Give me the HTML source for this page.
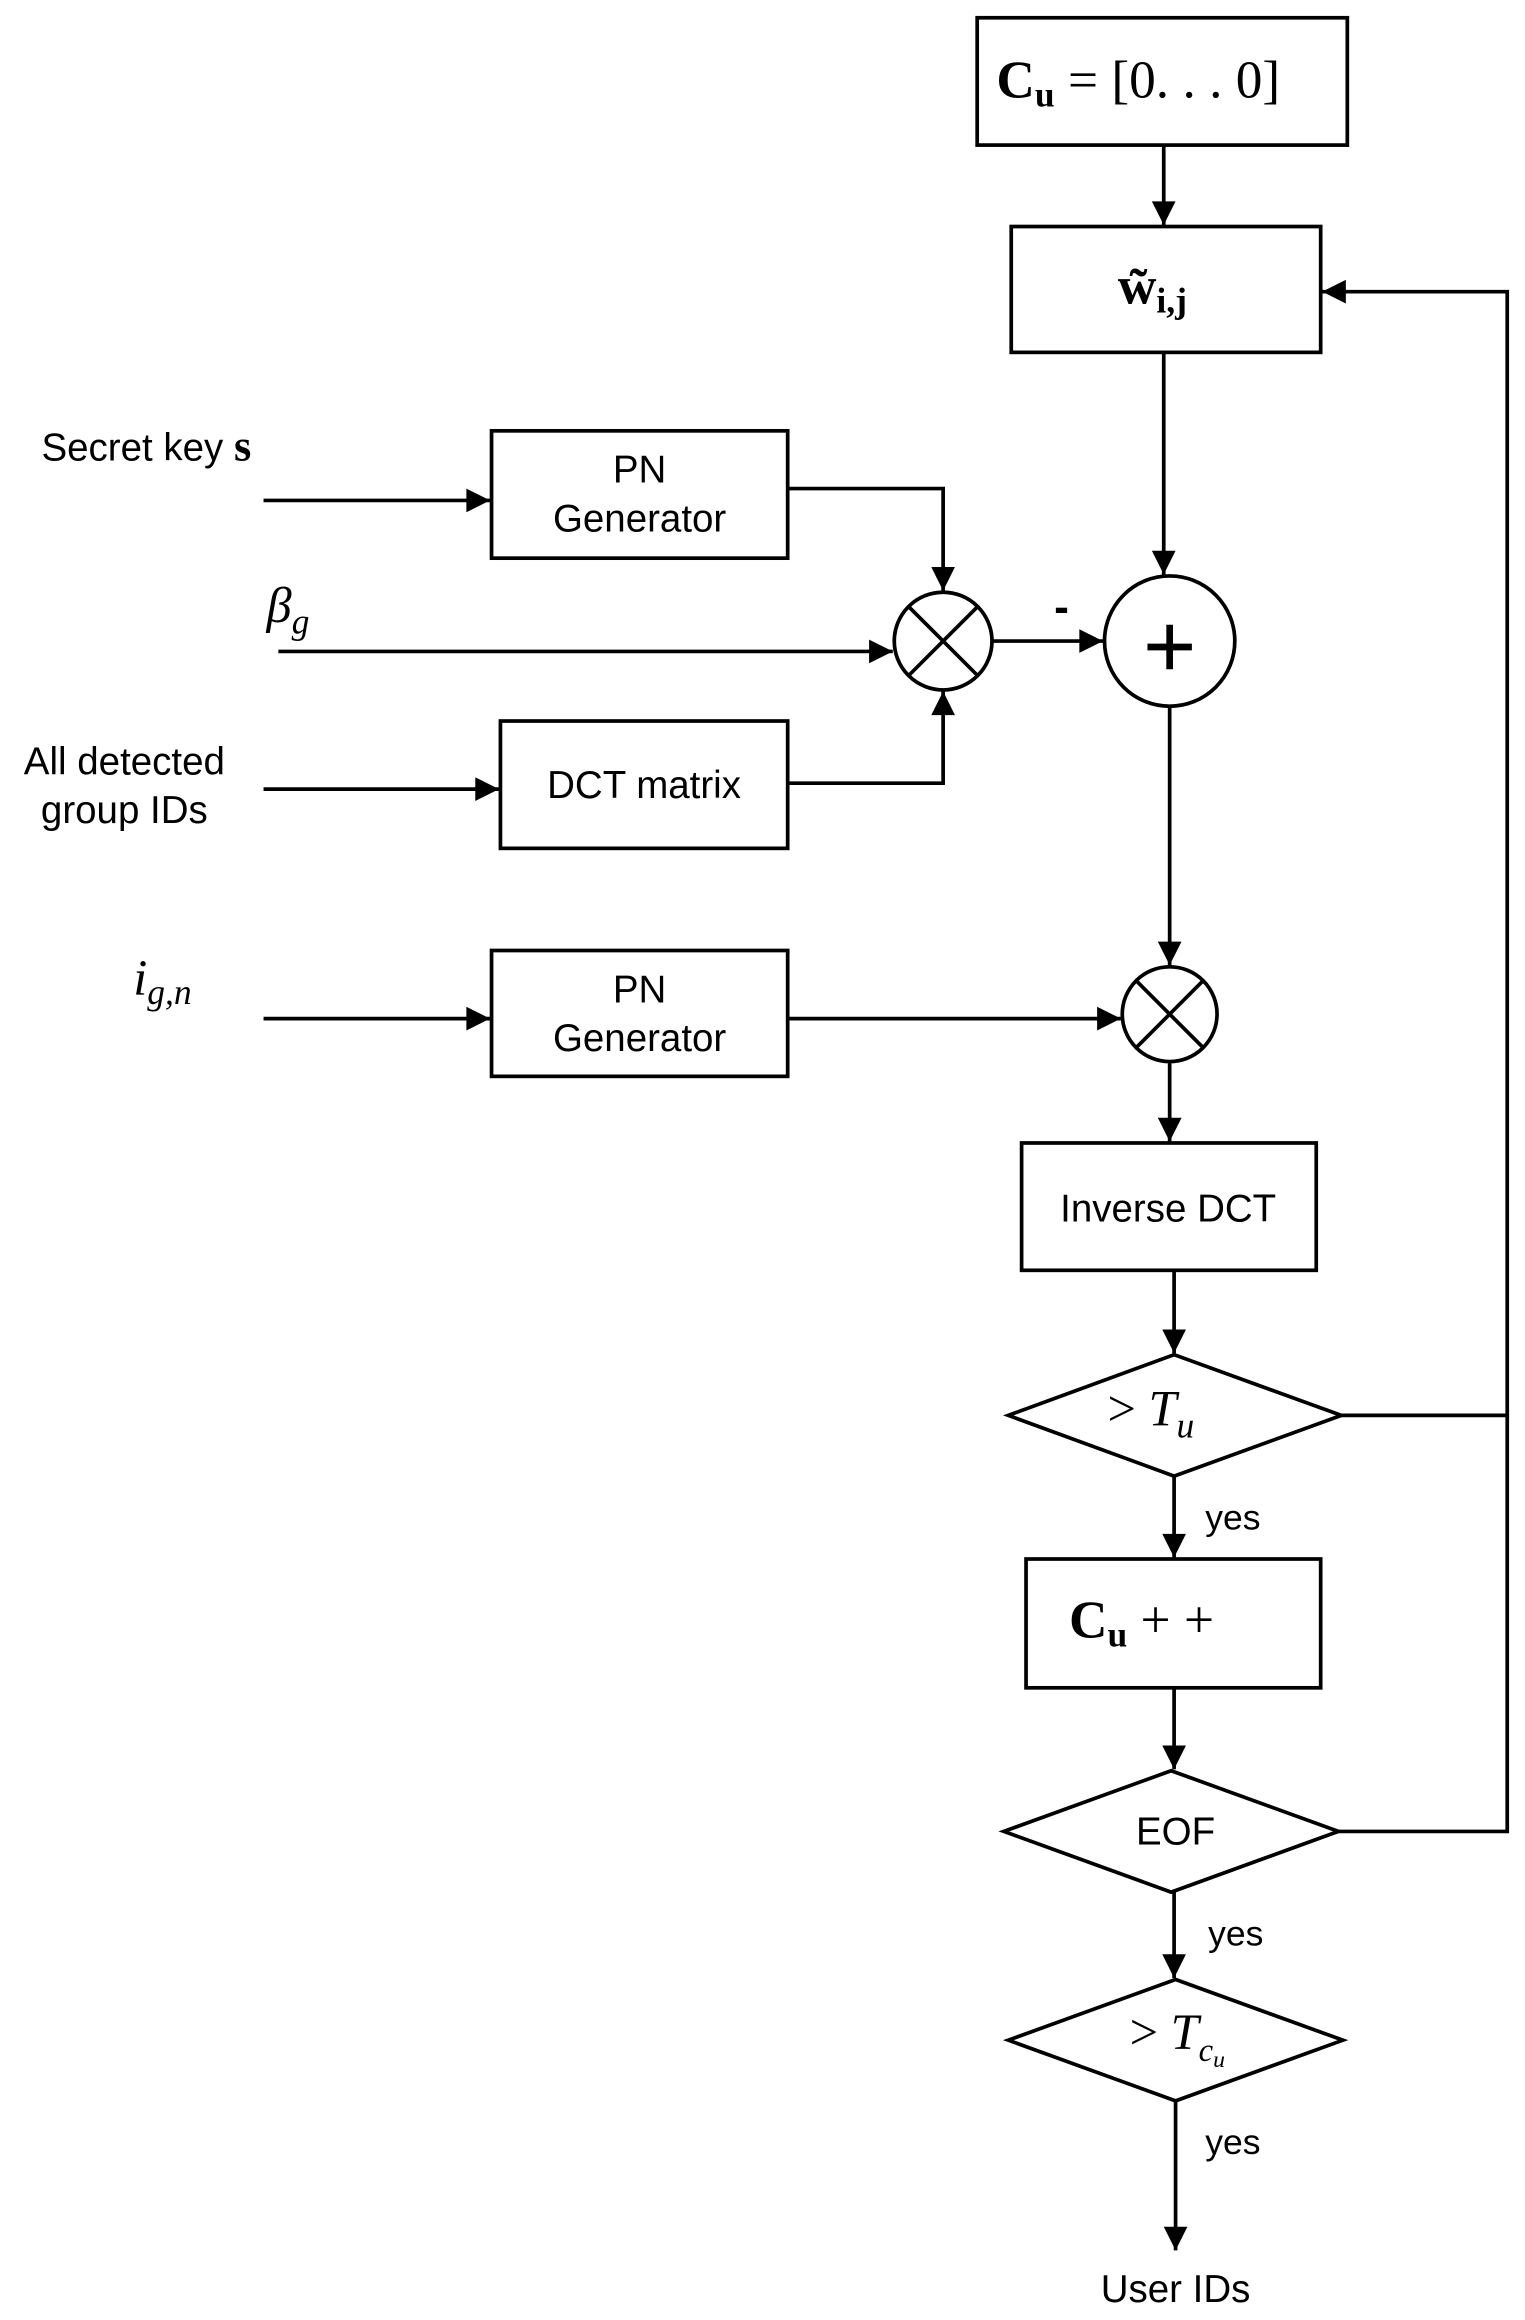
<!DOCTYPE html>
<html><head><meta charset="utf-8"><style>
html,body{margin:0;padding:0;background:#fff;}
svg{display:block;}
text{font-family:"Liberation Sans",sans-serif;fill:#000;}
.m{font-family:"Liberation Serif",serif;}
</style></head><body>
<svg width="1525" height="2320" viewBox="0 0 1030 1567" preserveAspectRatio="none" xmlns="http://www.w3.org/2000/svg">
<defs>
<marker id="b" viewBox="0 0 10 10" refX="10" refY="5" markerWidth="20" markerHeight="16" markerUnits="userSpaceOnUse" orient="auto"><path d="M0,0 L10,5 L0,10 z" fill="#000"/></marker></defs>
<g stroke="#000" stroke-width="2.5" fill="none">
<rect x="660" y="12" width="250" height="86"/>
<rect x="683" y="153" width="209" height="85"/>
<rect x="332" y="291" width="200" height="86"/>
<rect x="338" y="487" width="194" height="86"/>
<rect x="332" y="642" width="200" height="85"/>
<rect x="690" y="772" width="199" height="86"/>
<rect x="693" y="1053" width="199" height="87"/>
<circle cx="790" cy="433" r="44"/>
<circle cx="637" cy="433" r="33"/>
<path d="M614,410 L660,456 M660,410 L614,456"/>
<circle cx="790" cy="685" r="32"/>
<path d="M767,662 L813,708 M813,662 L767,708"/>
<polygon points="681,956 793,915 906,956 793,997"/>
<polygon points="678,1237 791,1196 904,1237 791,1278"/>
<polygon points="681,1378 794,1337 907,1378 794,1419"/>
<path d="M904,1237 H1018 V956"/>
<g marker-end="url(#b)">
<path d="M786,98 V152"/>
<path d="M906,956 H1018 V197 H893"/>
<path d="M786,238 V388"/>
<path d="M178,338 H331"/>
<path d="M532,330 H637 V399"/>
<path d="M188,440 H603"/>
<path d="M670,433 H745"/>
<path d="M178,533 H337"/>
<path d="M532,529 H637 V467"/>
<path d="M790,477 V652"/>
<path d="M178,688 H331"/>
<path d="M532,688 H757"/>
<path d="M790,717 V771"/>
<path d="M793,858 V914"/>
<path d="M793,997 V1052"/>
<path d="M793,1140 V1195"/>
<path d="M793,1278 V1336"/>
<path d="M794,1419 V1520"/>
</g>
</g>
<path d="M775,437 H805 M790,422 V452" stroke="#000" stroke-width="4.5"/>
<text x="673" y="66" class="m" font-size="36"><tspan font-weight="bold">C</tspan><tspan font-weight="bold" font-size="24" dy="6">u</tspan><tspan dy="-6"> = [0. . . 0]</tspan></text>
<text x="755" y="205" class="m" font-size="36" font-weight="bold">w̃<tspan font-size="24" dy="6">i,j</tspan></text>
<text x="432" y="326" font-size="26" text-anchor="middle">PN</text>
<text x="432" y="359" font-size="26" text-anchor="middle">Generator</text>
<text x="435" y="539" font-size="26" text-anchor="middle">DCT matrix</text>
<text x="432" y="677" font-size="26" text-anchor="middle">PN</text>
<text x="432" y="710" font-size="26" text-anchor="middle">Generator</text>
<text x="789" y="825" font-size="26" text-anchor="middle">Inverse DCT</text>
<text x="28" y="311" font-size="26">Secret key <tspan class="m" font-weight="bold" font-size="30">s</tspan></text>
<text x="180" y="420" class="m" font-size="34" font-style="italic">β<tspan font-size="24" dy="8">g</tspan></text>
<text x="84" y="523" font-size="26" text-anchor="middle">All detected</text>
<text x="84" y="556" font-size="26" text-anchor="middle">group IDs</text>
<text x="90" y="672" class="m" font-size="34" font-style="italic">i<tspan font-size="24" dy="6">g,n</tspan></text>
<text x="712" y="420" font-size="30" font-weight="bold">-</text>
<text x="748" y="963" class="m" font-size="34">&gt; <tspan font-style="italic">T</tspan><tspan font-style="italic" font-size="24" dy="8">u</tspan></text>
<text x="814" y="1033" font-size="24">yes</text>
<text x="722" y="1106" class="m" font-size="36"><tspan font-weight="bold">C</tspan><tspan font-weight="bold" font-size="24" dy="6">u</tspan><tspan dy="-6"> + +</tspan></text>
<text x="794" y="1246" font-size="26" text-anchor="middle">EOF</text>
<text x="816" y="1314" font-size="24">yes</text>
<text x="763" y="1384" class="m" font-size="34">&gt; <tspan font-style="italic">T</tspan><tspan font-style="italic" font-size="22" dy="8">c</tspan><tspan font-style="italic" font-size="16" dy="4">u</tspan></text>
<text x="814" y="1455" font-size="24">yes</text>
<text x="794" y="1555" font-size="26" text-anchor="middle">User IDs</text>
</svg>
</body></html>
